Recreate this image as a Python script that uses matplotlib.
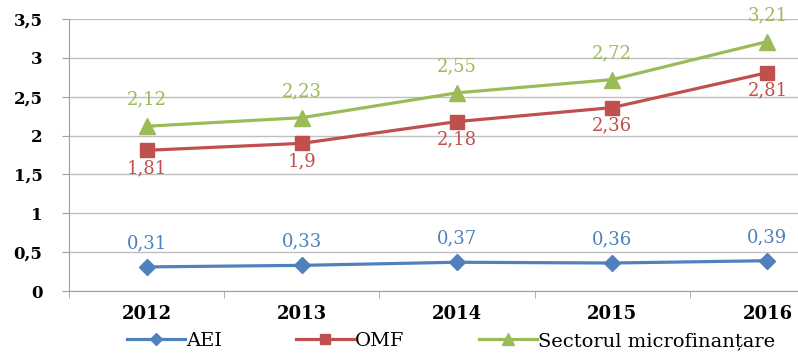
import matplotlib
matplotlib.use("Agg")
import matplotlib.pyplot as plt

years = ["2012", "2013", "2014", "2015", "2016"]
aei = [0.31, 0.33, 0.37, 0.36, 0.39]
omf = [1.81, 1.9, 2.18, 2.36, 2.81]
sector = [2.12, 2.23, 2.55, 2.72, 3.21]
series_names = ["AEI", "OMF", "Sectorul microfinanțare"]
yticks = [0, 0.5, 1, 1.5, 2, 2.5, 3, 3.5]

blue = "#4F81BD"
red = "#C0504D"
green = "#9BBB59"
serif = ["DejaVu Serif"]

fig = plt.figure(figsize=(7.98, 3.53), dpi=100)
W, H = 798, 353
ax = fig.add_axes([69 / W, 1 - 291 / H, 776 / W, (291 - 19) / H])

x = list(range(len(years)))
ax.plot(x, aei, color=blue, lw=2.3, marker="D", ms=8, label=series_names[0], zorder=3)
ax.plot(x, omf, color=red, lw=2.3, marker="s", ms=10, label=series_names[1], zorder=3)
ax.plot(x, sector, color=green, lw=2.3, marker="^", ms=11, label=series_names[2], zorder=3)

def fmt(v):
    return ("%g" % v).replace(".", ",")

for xi, v in zip(x, aei):
    ax.annotate(fmt(v), (xi, v), xytext=(0, 17), textcoords="offset points",
                ha="center", va="center", color=blue, fontsize=13, family=serif)
for xi, v in zip(x, omf):
    ax.annotate(fmt(v), (xi, v), xytext=(0, -13), textcoords="offset points",
                ha="center", va="center", color=red, fontsize=13, family=serif)
for xi, v in zip(x, sector):
    ax.annotate(fmt(v), (xi, v), xytext=(0, 19), textcoords="offset points",
                ha="center", va="center", color=green, fontsize=13, family=serif)

ax.set_xlim(-0.5, len(years) - 0.5)
ax.set_ylim(0, 3.5)
ax.set_yticks(yticks)
ax.set_yticklabels([fmt(v) for v in yticks], fontsize=12, fontweight="bold", family=serif)
ax.set_xticks(x)
ax.set_xticklabels(years, fontsize=13, fontweight="bold", family=serif)
ax.set_xticks([i - 0.5 for i in range(len(years) + 1)], minor=True)
ax.tick_params(axis="x", which="major", length=0, pad=10)
ax.tick_params(axis="x", which="minor", length=5, color="#A0A0A0")
ax.tick_params(axis="y", length=5, color="#A0A0A0", pad=14)
ax.grid(axis="y", color="#BFBFBF", lw=1)
ax.set_axisbelow(True)
for s in ["top", "right"]:
    ax.spines[s].set_visible(False)
for s in ["left", "bottom"]:
    ax.spines[s].set_color("#A0A0A0")

leg = fig.legend(loc="center", bbox_to_anchor=(451 / W, 1 - 341 / H), ncol=3, frameon=False,
                 prop={"family": serif, "size": 14}, handlelength=3.0, handletextpad=0.05,
                 columnspacing=3.8, markerscale=0.75)
fig.savefig("out.png", dpi=100)
